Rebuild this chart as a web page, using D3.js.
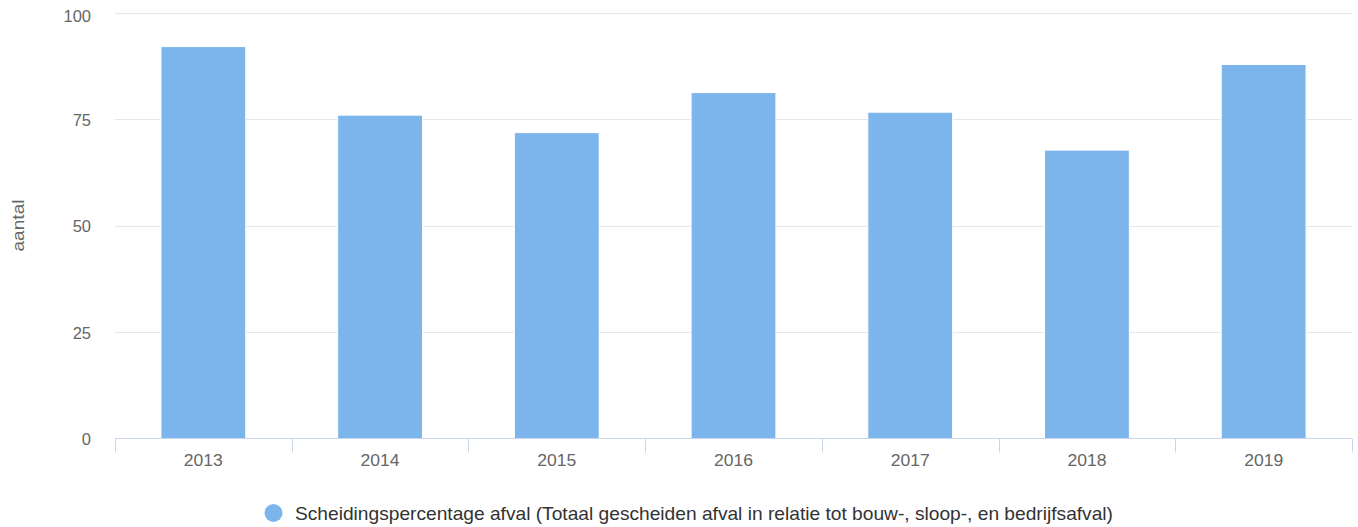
<!DOCTYPE html>
<html><head><meta charset="utf-8">
<script src="https://cdn.jsdelivr.net/npm/d3@7"></script>
<style>
html,body{margin:0;padding:0;background:#fff;}
svg{display:block;font-family:"Liberation Sans",Arial,Helvetica,sans-serif;}
</style></head>
<body><svg id="c" width="1358" height="527"></svg>
<script>
const categories = ["2013","2014","2015","2016","2017","2018","2019"];
const values = [92.0, 75.9, 71.8, 81.2, 76.6, 67.7, 87.8];
const yTicks = [0, 25, 50, 75, 100];
const seriesName = "Scheidingspercentage afval (Totaal gescheiden afval in relatie tot bouw-, sloop-, en bedrijfsafval)";
const yTitle = "aantal";

const svg = d3.select("#c");
const plotLeft = 115, plotRight = 1352, plotTop = 12.5, plotBottom = 438.5;

const x = d3.scaleBand().domain(categories).range([plotLeft, plotRight]).paddingInner(0).paddingOuter(0);
const y = d3.scaleLinear().domain([0, 100]).range([plotBottom, plotTop]);

// grid
svg.append("g").selectAll("line").data(yTicks.filter(d => d > 0)).join("line")
  .attr("x1", plotLeft).attr("x2", plotRight)
  .attr("y1", d => Math.round(y(d)) + 0.5).attr("y2", d => Math.round(y(d)) + 0.5)
  .attr("stroke", "#e6e6e6").attr("stroke-width", 1);

// y labels (kept inside the chart at the top)
svg.append("g").selectAll("text").data(yTicks).join("text")
  .attr("x", 91).attr("y", d => Math.max(y(d) + 6.5, 21.5))
  .attr("text-anchor", "end").attr("fill", "#666").attr("font-size", 16.5)
  .text(d => d);

// y title
svg.append("text")
  .attr("transform", `translate(24,${(plotTop + plotBottom) / 2}) rotate(-90)`)
  .attr("text-anchor", "middle").attr("fill", "#666").attr("font-size", 17)
  .attr("textLength", 52).attr("lengthAdjust", "spacingAndGlyphs")
  .text(yTitle);

// bars
const bw = x.bandwidth();
const barW = bw * 0.48;
svg.append("g").selectAll("rect").data(values).join("rect")
  .attr("x", (d, i) => x(categories[i]) + (bw - barW) / 2)
  .attr("y", d => y(d))
  .attr("width", barW)
  .attr("height", d => plotBottom - y(d))
  .attr("fill", "#7cb5ec").attr("stroke", "#fff").attr("stroke-width", 1);

// x axis line
svg.append("line").attr("x1", plotLeft).attr("x2", plotRight)
  .attr("y1", plotBottom).attr("y2", plotBottom)
  .attr("stroke", "#ccd6eb").attr("stroke-width", 1);

// ticks at boundaries
const bounds = categories.map(c => x(c)).concat([plotRight]);
svg.append("g").selectAll("line").data(bounds).join("line")
  .attr("x1", d => Math.round(d) + 0.5).attr("x2", d => Math.round(d) + 0.5)
  .attr("y1", plotBottom).attr("y2", plotBottom + 14)
  .attr("stroke", "#ccd6eb").attr("stroke-width", 1);

// x labels
svg.append("g").selectAll("text").data(categories).join("text")
  .attr("x", d => x(d) + bw / 2).attr("y", 466)
  .attr("text-anchor", "middle").attr("fill", "#666").attr("font-size", 16)
  .attr("textLength", 39).attr("lengthAdjust", "spacingAndGlyphs")
  .text(d => d);

// legend
svg.append("circle").attr("cx", 273.5).attr("cy", 513).attr("r", 9).attr("fill", "#7cb5ec");
svg.append("text").attr("x", 295).attr("y", 519.5)
  .attr("fill", "#333").attr("font-size", 18.5)
  .attr("textLength", 818).attr("lengthAdjust", "spacingAndGlyphs")
  .text(seriesName);
</script>
</body></html>
